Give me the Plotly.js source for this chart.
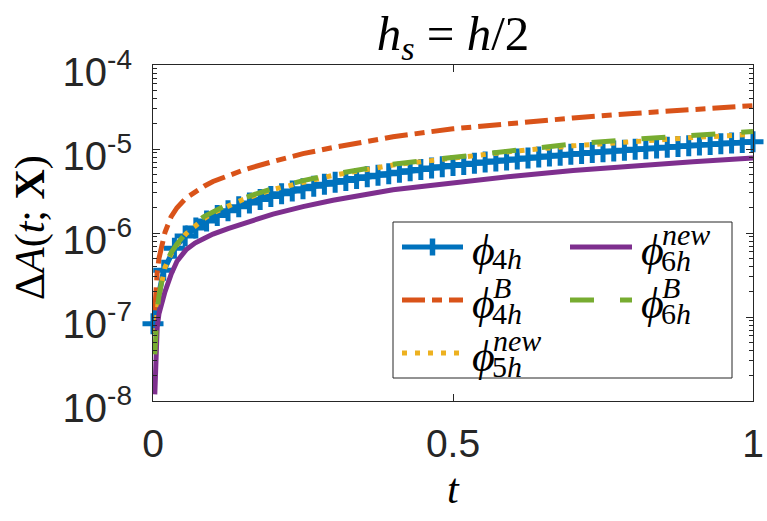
<!DOCTYPE html>
<html>
<head>
<meta charset="utf-8">
<script src="https://cdn.plot.ly/plotly-3.0.1.min.js"></script>
<style>
  html, body { margin: 0; padding: 0; background: #fff; }
  #chart { width: 767px; height: 521px; }
</style>
</head>
<body>
<div id="chart"></div>
<script>
// Error growth ΔA(t; X) for the different stencils, h_s = h/2 (values in units of 1e-6)
const unit = 1e-6;

// time samples of the phi_4h run (one marker per stored step)
const tPhi4h = [0, 0.0179, 0.0357, 0.0536, 0.0714, 0.0893, 0.1071, 0.125, 0.1429, 0.1607,
  0.1786, 0.1964, 0.2143, 0.2321, 0.25, 0.2679, 0.2857, 0.3036, 0.3214, 0.3393,
  0.3571, 0.375, 0.3929, 0.4107, 0.4286, 0.4464, 0.4643, 0.4821, 0.5, 0.5179,
  0.5357, 0.5536, 0.5714, 0.5893, 0.6071, 0.625, 0.6429, 0.6607, 0.6786, 0.6964,
  0.7143, 0.7321, 0.75, 0.7679, 0.7857, 0.8036, 0.8214, 0.8393, 0.8571, 0.875,
  0.8929, 0.9107, 0.9286, 0.9464, 0.9643, 0.9821, 1.0];
const phi4h = [0.083, 0.36, 0.66, 0.92, 1.15, 1.39, 1.62, 1.84, 2.06, 2.28,
  2.5, 2.72, 2.94, 3.16, 3.37, 3.59, 3.8, 4.02, 4.23, 4.45,
  4.66, 4.87, 5.08, 5.3, 5.51, 5.72, 5.93, 6.14, 6.35, 6.56,
  6.77, 6.98, 7.19, 7.4, 7.61, 7.82, 8.03, 8.23, 8.44, 8.65,
  8.86, 9.07, 9.27, 9.48, 9.69, 9.9, 10.1, 10.31, 10.52, 10.72,
  10.93, 11.14, 11.35, 11.55, 11.76, 11.96, 12.17];

// time samples shared by the other runs
const t = [0.003, 0.004, 0.007, 0.01, 0.015, 0.02, 0.03, 0.04, 0.055, 0.07, 0.085, 0.1,
  0.125, 0.15, 0.2, 0.25, 0.3, 0.4, 0.5, 0.6, 0.7, 0.8, 0.9, 1.0];
const phi4hB = [0.12, 0.18, 0.34, 0.5, 0.75, 1.02, 1.55, 2.0, 2.6, 3.1, 3.6, 4.1,
  4.85, 5.6, 7.1, 8.8, 10.4, 14.0, 17.4, 20.3, 23.4, 26.5, 29.6, 32.8];
const phi5hNew = [0.045, 0.065, 0.12, 0.18, 0.28, 0.39, 0.56, 0.72, 0.98, 1.22, 1.48, 1.74,
  2.12, 2.5, 3.3, 4.05, 4.85, 6.45, 7.9, 9.4, 10.9, 12.4, 13.7, 14.9];
const phi6hNew = [0.012, 0.03, 0.075, 0.11, 0.155, 0.2, 0.32, 0.46, 0.63, 0.76, 0.86, 0.97,
  1.13, 1.3, 1.68, 2.06, 2.45, 3.28, 4.0, 4.75, 5.55, 6.3, 7.05, 7.8];
const phi6hB = [0.036, 0.06, 0.12, 0.18, 0.3, 0.42, 0.58, 0.74, 1.0, 1.3, 1.57, 1.8,
  2.2, 2.59, 3.4, 4.2, 5.0, 6.6, 8.0, 9.7, 11.5, 13.0, 14.6, 16.2];

const yTickVals = [1e-8, 1e-7, 1e-6, 1e-5, 1e-4];
const yTickText = ['10<sup>-8</sup>', '10<sup>-7</sup>', '10<sup>-6</sup>', '10<sup>-5</sup>', '10<sup>-4</sup>'];
const xTickVals = [0, 0.5, 1];
const xTickText = ['0', '0.5', '1'];

const C = {
  blue: '#0072BD', orange: '#D95319', yellow: '#EDB120',
  purple: '#7E2F8E', green: '#77AC30', axis: '#262626'
};
const DASH = {
  dashdot: '23px,7px,10px,7px',
  dot: '5px,8px',
  dash: '24px,26px'
};
const scaled = arr => arr.map(v => v * unit);

const traces = [
  { x: tPhi4h, y: scaled(phi4h), mode: 'lines+markers', cliponaxis: false,
    line: { color: C.blue, width: 5.5 },
    marker: { symbol: 'cross-thin', size: 15, color: C.blue, line: { color: C.blue, width: 5 } } },
  { x: t, y: scaled(phi4hB), mode: 'lines', line: { color: C.orange, width: 5, dash: DASH.dashdot } },
  { x: t, y: scaled(phi5hNew), mode: 'lines', line: { color: C.yellow, width: 5, dash: DASH.dot } },
  { x: t, y: scaled(phi6hNew), mode: 'lines', line: { color: C.purple, width: 5 } },
  { x: t, y: scaled(phi6hB), mode: 'lines', line: { color: C.green, width: 5, dash: DASH.dash } }
];

// plot-area geometry in pixels
const M = { l: 153, r: 14, t: 65, b: 120 };
const W = 767 - M.l - M.r, H = 521 - M.t - M.b;
const px = x => (x - M.l) / W;
const py = y => (M.t + H - y) / H;

const minorVals = [];
for (let e = -8; e < -4; e++) for (let k = 2; k <= 9; k++) minorVals.push(k * Math.pow(10, e));

const serif = 'Liberation Serif, DejaVu Serif, serif';
const sans = 'Liberation Sans, Arial, sans-serif';

// legend drawn as shapes + annotations
const shapes = [
  { type: 'rect', xref: 'paper', yref: 'paper', x0: px(393), x1: px(732), y0: py(378), y1: py(222),
    line: { color: C.axis, width: 1 }, fillcolor: '#ffffff', layer: 'above' }
];
const rows = [247, 300, 353];
const col1 = [402, 463], col2 = [570, 632];
function sample(col, row, color, dash) {
  shapes.push({ type: 'line', xref: 'paper', yref: 'paper', x0: px(col[0]), x1: px(col[1]),
    y0: py(row), y1: py(row), line: { color, width: 5, dash: dash || 'solid' }, layer: 'above' });
}
sample(col1, rows[0], C.blue);
// the + marker of the phi_4h entry
shapes.push({ type: 'line', xref: 'paper', yref: 'paper', x0: px(432.5), x1: px(432.5),
  y0: py(rows[0] - 8.5), y1: py(rows[0] + 8.5), line: { color: C.blue, width: 5.5 }, layer: 'above' });
sample(col1, rows[1], C.orange, DASH.dashdot);
sample(col1, rows[2], C.yellow, DASH.dot);
sample(col2, rows[0], C.purple);
sample(col2, rows[1], C.green, DASH.dash);

const annotations = [];
function label(x, row, sup, sub) {
  annotations.push({ xref: 'paper', yref: 'paper', x: px(x), y: py(row + 3), xanchor: 'left', yanchor: 'middle',
    text: '<i>ϕ</i>', showarrow: false, borderpad: 0, font: { family: serif, size: 44, color: '#000' } });
  if (sup) annotations.push({ xref: 'paper', yref: 'paper', x: px(x + 21), y: py(row - 13), xanchor: 'left', yanchor: 'middle',
    text: '<i>' + sup + '</i>', showarrow: false, borderpad: 0, font: { family: serif, size: 30, color: '#000' } });
  annotations.push({ xref: 'paper', yref: 'paper', x: px(x + 20), y: py(row + (sup ? 13 : 11)), xanchor: 'left', yanchor: 'middle',
    text: sub, showarrow: false, borderpad: 0, font: { family: serif, size: 30, color: '#000' } });
}
label(471, rows[0], null, '4<i>h</i>');
label(471, rows[1], 'B', '4<i>h</i>');
label(471, rows[2], 'new', '5<i>h</i>');
label(640, rows[0], 'new', '6<i>h</i>');
label(640, rows[1], 'B', '6<i>h</i>');

// axis titles
annotations.push({ xref: 'paper', yref: 'paper', x: px(30), y: py(228), xanchor: 'center', yanchor: 'middle',
  textangle: -90, showarrow: false, text: 'Δ<i>A</i>(<i>t</i>; <b>X</b>)',
  font: { family: serif, size: 42, color: '#000' } });
annotations.push({ xref: 'paper', yref: 'paper', x: px(453), y: py(489), xanchor: 'center', yanchor: 'middle',
  showarrow: false, text: '<i>t</i>', font: { family: serif, size: 42, color: '#000' } });

const layout = {
  width: 767, height: 521,
  margin: M,
  paper_bgcolor: '#fff', plot_bgcolor: '#fff',
  showlegend: false,
  title: { text: '<i>h</i><sub><i>s</i></sub> = <i>h</i>/2', xref: 'paper', x: 0.5,
    xanchor: 'center', y: 1 - 33 / 521, yanchor: 'middle', font: { family: serif, size: 49, color: '#000' } },
  xaxis: {
    range: [0, 1], tickmode: 'array', tickvals: xTickVals, ticktext: xTickText,
    ticks: 'inside', ticklen: 7, tickwidth: 1, tickcolor: C.axis,
    showline: true, linecolor: C.axis, linewidth: 1, mirror: 'ticks',
    showgrid: false, zeroline: false, ticklabelstandoff: 8,
    tickfont: { family: sans, size: 39, color: C.axis }
  },
  yaxis: {
    type: 'log', range: [-8, -4], tickmode: 'array', tickvals: yTickVals, ticktext: yTickText,
    ticks: 'inside', ticklen: 7, tickwidth: 1, tickcolor: C.axis,
    minor: { tickmode: 'array', tickvals: minorVals, ticks: 'inside', ticklen: 4, tickcolor: C.axis, showgrid: false },
    showline: true, linecolor: C.axis, linewidth: 1, mirror: 'ticks',
    showgrid: false, zeroline: false, ticklabelstandoff: 12, ticklabelshift: 7,
    tickfont: { family: sans, size: 40, color: C.axis }
  },
  shapes, annotations
};

Plotly.newPlot('chart', traces, layout, { staticPlot: true, displayModeBar: false });
</script>
</body>
</html>
